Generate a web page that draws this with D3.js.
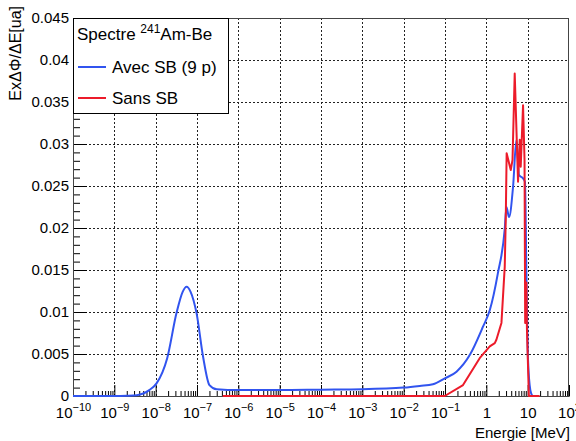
<!DOCTYPE html>
<html>
<head>
<meta charset="utf-8">
<script src="https://cdn.jsdelivr.net/npm/d3@7"></script>
<style>
  html, body { margin: 0; padding: 0; background: #fff; }
  svg { display: block; font-family: "Liberation Sans", Arial, sans-serif; }
</style>
</head>
<body>
<div id="chart"></div>
<script>
// spectre Am-Be, avec / sans sphere de Bonner

const energieAvec = [1e-10, 1e-9, 2e-9, 3.5e-9, 5e-9, 7e-9, 1.05e-8, 1.9e-8, 3.2e-8, 4.5e-8, 5.6e-8, 7e-8, 9.8e-8,
  1.4e-7, 2.0e-7, 3.0e-7, 1e-6, 3.3e-6, 1e-5, 1e-4, 1e-3, 1e-2, 2.45e-2, 5.1e-2, 9.9e-2, 0.19, 0.4, 0.83,
  1.21, 1.9, 2.78, 3.06, 3.54, 4.43, 5.35, 6.17, 7.73, 8.6, 9.3, 10.2, 11.6, 13];
const fluxAvec = [0, 0, 0.00003, 0.0001, 0.0003, 0.0007, 0.0015, 0.0045, 0.0099, 0.0124, 0.013, 0.0124, 0.0098,
  0.0047, 0.0013, 0.0008, 0.0007, 0.0007, 0.0007, 0.00075, 0.0008, 0.001, 0.0012, 0.0014, 0.0021, 0.0029, 0.0049, 0.00825,
  0.0102, 0.0146, 0.0198, 0.0225, 0.0213, 0.0249, 0.0305, 0.0263, 0.0259, 0.0255, 0.015, 0.0043, 0.0007, 0];

const energieSans = [4.2e-7, 0.0986, 0.273, 0.69, 1.21, 1.6, 1.75, 2.32, 2.79, 2.95, 3.1, 3.9, 4.3, 4.86, 5.85,
  6.43, 6.79, 7.73, 8.4, 8.7, 9.3, 9.6, 10.7, 19.5];
const fluxSans = [0, 0, 0.0013, 0.0045, 0.0059, 0.0063, 0.0067, 0.0087, 0.0154, 0.021, 0.0289, 0.0269, 0.0281, 0.0384, 0.0255,
  0.0305, 0.0273, 0.0346, 0.0281, 0.0087, 0.0135, 0.008, 0, 0];

const xTicksMaj = [1e-10, 1e-9, 1e-8, 1e-7, 1e-6, 1e-5, 1e-4, 1e-3, 1e-2, 1e-1, 1, 10, 100];
const xTickBase = ["10", "10", "10", "10", "10", "10", "10", "10", "10", "10", "1", "10", "10"];
const xTickSup = ["\u221210", "\u22129", "\u22128", "\u22127", "\u22126", "\u22125", "\u22124", "\u22123", "\u22122", "\u22121", "", "", "2"];

const yTicksMaj = [0, 0.005, 0.01, 0.015, 0.02, 0.025, 0.03, 0.035, 0.04, 0.045];
const yTickLabels = ["0", "0.005", "0.01", "0.015", "0.02", "0.025", "0.03", "0.035", "0.04", "0.045"];

const width = 576, height = 441;
const pad = { top: 18, right: 7, bottom: 45, left: 73 };
const colAvec = "#3154ef";
const colSans = "#ec1b2a";

const svg = d3.select("#chart").append("svg")
  .attr("width", width)
  .attr("height", height);

const x = d3.scaleLog()
  .domain([1e-10, 1e2])
  .range([pad.left, width - pad.right]);

const y = d3.scaleLinear()
  .domain([0, 0.045])
  .range([height - pad.bottom, pad.top]);

const x0 = pad.left, x1 = width - pad.right, y0 = height - pad.bottom, y1 = pad.top;

// minor ticks
const xTicksMin = [];
xTicksMaj.slice(0, -1).forEach(d => {
  for (let k = 2; k <= 9; k++) xTicksMin.push(d * k);
});
const yTicksMin = d3.range(0, 0.0451, 0.001);

// grille pointillee
const grid = svg.append("g").attr("stroke", "#222").attr("stroke-dasharray", "2,2").attr("stroke-width", 1);
grid.selectAll("line.v")
  .data(xTicksMaj.slice(1, -1))
  .join("line")
  .attr("class", "v")
  .attr("x1", d => Math.round(x(d)) + 0.5)
  .attr("x2", d => Math.round(x(d)) + 0.5)
  .attr("y1", y1)
  .attr("y2", y0);
grid.selectAll("line.h")
  .data(yTicksMaj.slice(1, -1))
  .join("line")
  .attr("class", "h")
  .attr("x1", x0)
  .attr("x2", x1)
  .attr("y1", d => Math.round(y(d)) + 0.5)
  .attr("y2", d => Math.round(y(d)) + 0.5);

// axe x
const gx = svg.append("g").attr("transform", `translate(0,${y0})`);
gx.append("g")
  .call(d3.axisBottom(x).tickValues(xTicksMin).tickSize(-5).tickFormat(""))
  .call(g => g.select(".domain").remove());
const gxMaj = gx.append("g")
  .call(d3.axisBottom(x).tickValues(xTicksMaj).tickSize(-11).tickSizeOuter(0).tickFormat(""));
gxMaj.selectAll(".tick").each(function (d, i) {
  const t = d3.select(this).append("text")
    .attr("fill", "#000")
    .attr("y", 22)
    .attr("text-anchor", "middle")
    .attr("font-size", 15);
  t.append("tspan").text(xTickBase[i]);
  if (xTickSup[i]) {
    t.append("tspan").attr("font-size", 11).attr("dy", -7).text(xTickSup[i]);
  }
});

// axe y
const gy = svg.append("g").attr("transform", `translate(${x0},0)`);
gy.append("g")
  .call(d3.axisLeft(y).tickValues(yTicksMin).tickSize(-7).tickFormat(""))
  .call(g => g.select(".domain").remove());
gy.append("g")
  .call(d3.axisLeft(y).tickValues(yTicksMaj).tickSize(-14).tickSizeOuter(0).tickPadding(4)
    .tickFormat((d, i) => yTickLabels[i]))
  .selectAll("text")
  .attr("font-size", 15)
  .attr("fill", "#000");

svg.selectAll(".domain, .tick line").attr("stroke", "#000");

// cadre
svg.append("rect")
  .attr("x", x0 + 0.5)
  .attr("y", y1 + 0.5)
  .attr("width", x1 - x0 - 1)
  .attr("height", y0 - y1)
  .attr("fill", "none")
  .attr("stroke", "#444");

// courbes
svg.append("clipPath").attr("id", "clip")
  .append("rect")
  .attr("x", x0).attr("y", y1).attr("width", x1 - x0).attr("height", y0 - y1 + 3);

const lineAvec = d3.line()
  .x(d => x(d[0]))
  .y(d => y(d[1]))
  .curve(d3.curveMonotoneX);
const lineSans = d3.line()
  .x(d => x(d[0]))
  .y(d => y(d[1]));

const courbes = svg.append("g").attr("clip-path", "url(#clip)").attr("fill", "none").attr("stroke-width", 2);
courbes.append("path")
  .datum(d3.zip(energieAvec, fluxAvec))
  .attr("stroke", colAvec)
  .attr("d", lineAvec);
courbes.append("path")
  .datum(d3.zip(energieSans, fluxSans))
  .attr("stroke", colSans)
  .attr("stroke-linejoin", "round")
  .attr("d", lineSans);

// titres des axes
svg.append("text")
  .attr("transform", `translate(21,6) rotate(-90)`)
  .attr("text-anchor", "end")
  .attr("font-size", 16)
  .text("Ex\u0394\u03A6/\u0394E[ua]");

svg.append("text")
  .attr("x", x1 + 1)
  .attr("y", 438)
  .attr("text-anchor", "end")
  .attr("font-size", 15)
  .text("Energie [MeV]");

// legende
const leg = svg.append("g");
leg.append("rect")
  .attr("x", x0 + 0.5)
  .attr("y", y1 + 0.5)
  .attr("width", 155)
  .attr("height", 95)
  .attr("fill", "#fff")
  .attr("stroke", "#000");

const titreLeg = leg.append("text").attr("x", 77).attr("y", 40).attr("font-size", 17);
titreLeg.append("tspan").text("Spectre ");
titreLeg.append("tspan").attr("font-size", 12).attr("dy", -7).text("241");
titreLeg.append("tspan").attr("dy", 7).text("Am-Be");

const entrees = [
  { nom: "Avec SB (9 p)", col: colAvec, yy: 67 },
  { nom: "Sans SB", col: colSans, yy: 98 }
];
entrees.forEach(e => {
  leg.append("line")
    .attr("x1", 78).attr("x2", 106)
    .attr("y1", e.yy).attr("y2", e.yy)
    .attr("stroke", e.col)
    .attr("stroke-width", 2);
  leg.append("text")
    .attr("x", 112)
    .attr("y", e.yy + 6)
    .attr("font-size", 17)
    .text(e.nom);
});
</script>
</body>
</html>
